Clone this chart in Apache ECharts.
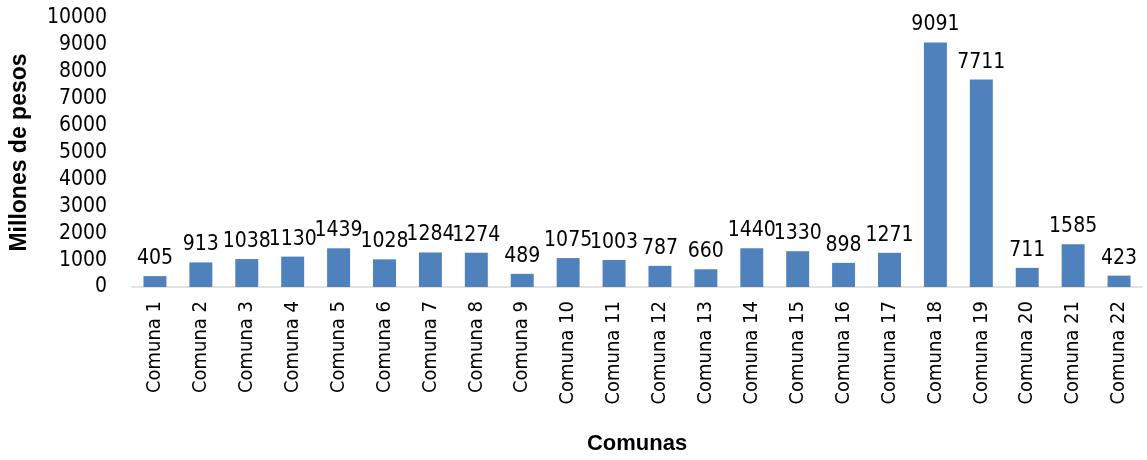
<!DOCTYPE html>
<html><head><meta charset="utf-8">
<script src="https://cdn.jsdelivr.net/npm/echarts@6/dist/echarts.min.js"></script>
<style>html,body{margin:0;padding:0;background:#fff}#c{width:1147px;height:460px}</style>
</head><body><div id="c"></div>
<script>
const categories = ["Comuna 1","Comuna 2","Comuna 3","Comuna 4","Comuna 5","Comuna 6","Comuna 7","Comuna 8","Comuna 9","Comuna 10","Comuna 11","Comuna 12","Comuna 13","Comuna 14","Comuna 15","Comuna 16","Comuna 17","Comuna 18","Comuna 19","Comuna 20","Comuna 21","Comuna 22"];
const values = [405,913,1038,1130,1439,1028,1284,1274,489,1075,1003,787,660,1440,1330,898,1271,9091,7711,711,1585,423];
const yTicks = [0,1000,2000,3000,4000,5000,6000,7000,8000,9000,10000];
const font = "'DejaVu Sans Condensed', 'Liberation Sans Narrow', sans-serif";
const boldFont = "'Liberation Sans', Arial, sans-serif";
const chart = echarts.init(document.getElementById('c'));
chart.setOption({
  animation:false,
  grid:{left:125,right:5,top:18,bottom:172},
  xAxis:{type:'category',data:categories,
    name:'Comunas',nameLocation:'middle',nameGap:146,
    nameTextStyle:{fontFamily:boldFont,fontWeight:'bold',fontSize:22,color:'#000'},
    axisLine:{lineStyle:{color:'#d9d9d9',width:1.5}},axisTick:{show:false},
    axisLabel:{rotate:90,interval:0,fontFamily:font,fontSize:20,color:'#000',margin:14}},
  yAxis:{type:'value',min:yTicks[0],max:yTicks[yTicks.length-1],interval:1000,
    name:'Millones de pesos',nameLocation:'middle',nameGap:101,
    nameTextStyle:{fontFamily:boldFont,fontWeight:'bold',fontSize:23,color:'#000'},
    splitLine:{show:false},axisLine:{show:false},axisTick:{show:false},
    axisLabel:{fontFamily:font,fontSize:21,color:'#000',margin:25,formatter:v=>String(v)}},
  series:[{type:'bar',data:values,barWidth:'50%',itemStyle:{color:'#4f81bd'},
    label:{show:true,position:'top',distance:7,fontFamily:font,fontSize:21,color:'#000'}}]
});
</script></body></html>
